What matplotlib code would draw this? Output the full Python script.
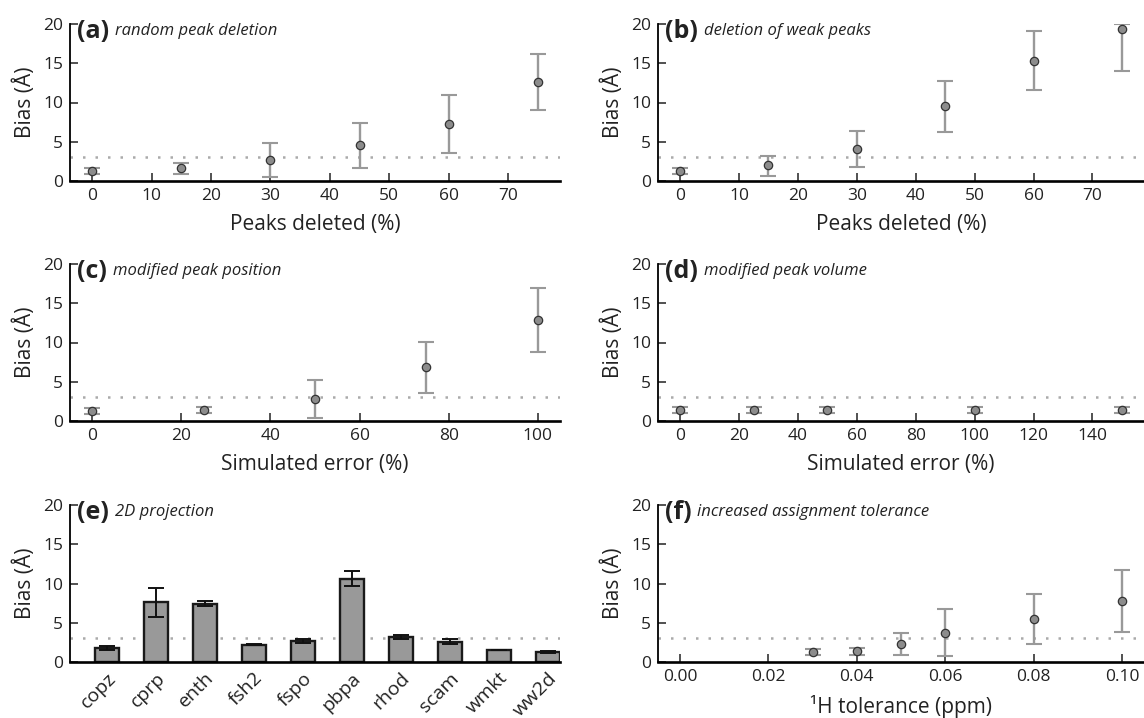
import numpy as np
import matplotlib.pyplot as plt

plt.rcParams['font.family'] = ['Open Sans', 'DejaVu Sans']

# (a) random peak deletion
a_x = [0, 15, 30, 45, 60, 75]
a_y = [1.3, 1.6, 2.7, 4.6, 7.3, 12.6]
a_lo = [0.4, 0.7, 2.15, 2.9, 3.7, 3.6]
a_hi = [0.4, 0.7, 2.1, 2.8, 3.7, 3.6]

# (b) deletion of weak peaks
b_x = [0, 15, 30, 45, 60, 75]
b_y = [1.3, 2.0, 4.1, 9.55, 15.35, 19.3]
b_lo = [0.4, 1.3, 2.3, 3.25, 3.8, 5.3]
b_hi = [0.4, 1.2, 2.3, 3.25, 3.8, 0.7]

# (c) modified peak position
c_x = [0, 25, 50, 75, 100]
c_y = [1.3, 1.35, 2.8, 6.85, 12.9]
c_lo = [0.38, 0.38, 2.4, 3.25, 4.1]
c_hi = [0.4, 0.4, 2.4, 3.25, 4.1]

# (d) modified peak volume
d_x = [0, 25, 50, 100, 150]
d_y = [1.34, 1.34, 1.34, 1.34, 1.34]
d_lo = [0.38, 0.38, 0.38, 0.38, 0.38]
d_hi = [0.38, 0.38, 0.38, 0.38, 0.38]

# (e) 2D projection
e_names = ['copz', 'cprp', 'enth', 'fsh2', 'fspo', 'pbpa', 'rhod', 'scam', 'wmkt', 'ww2d']
e_y = [1.8, 7.6, 7.45, 2.2, 2.7, 10.6, 3.2, 2.6, 1.5, 1.25]
e_err = [0.3, 1.85, 0.3, 0.05, 0.25, 0.95, 0.25, 0.35, 0.03, 0.15]

# (f) increased assignment tolerance
f_x = [0.03, 0.04, 0.05, 0.06, 0.08, 0.10]
f_y = [1.3, 1.35, 2.27, 3.75, 5.47, 7.75]
f_lo = [0.42, 0.47, 1.4, 2.95, 3.2, 3.9]
f_hi = [0.38, 0.45, 1.4, 2.95, 3.15, 3.95]

threshold = 3.0

fig = plt.figure(figsize=(11.44, 7.18), dpi=100)

W, H = 1144.0, 718.0
rows = [181, 421, 662]          # bottom pixel of each row
cols = [(70, 490), (658, 486)]  # left pixel, width
ah = 157
ink = '#222222'

def make_ax(r, c):
    left, w = cols[c]
    return fig.add_axes([left / W, 1 - rows[r] / H, w / W, ah / H])

def style(ax, tag, title, xlabel):
    ax.set_ylim(0, 20)
    ax.set_yticks([0, 5, 10, 15, 20])
    for s in ['top', 'right']:
        ax.spines[s].set_visible(False)
    ax.spines['bottom'].set_linewidth(1.9)
    ax.spines['left'].set_linewidth(1.3)
    ax.tick_params(direction='in', length=6, width=1.1, labelsize=12.5,
                   colors=ink, pad=5)
    ax.axhline(threshold, color='#aaaaaa', ls=(0, (1, 4)), lw=1.8, zorder=0)
    ax.set_ylabel('Bias (Å)', fontsize=15, color=ink, labelpad=5)
    if xlabel:
        ax.set_xlabel(xlabel, fontsize=15, color=ink, labelpad=7)
    t = ax.text(0.015, 0.955, tag, transform=ax.transAxes, fontsize=18,
                fontweight='bold', va='center', ha='left', color=ink)
    ax.annotate(title, xy=(1, 0.5), xycoords=t, xytext=(4, 0),
                textcoords='offset points', fontsize=12, style='italic',
                va='center', ha='left', color=ink)

def points(ax, x, y, lo, hi):
    ax.errorbar(x, y, yerr=[lo, hi], fmt='none', ecolor='#999999',
                elinewidth=1.7, capsize=6, capthick=1.5, zorder=2)
    ax.plot(x, y, 'o', ms=6, mfc='#8c8c8c', mec='#333333', mew=0.9,
            zorder=3, clip_on=False)

ax = make_ax(0, 0)
points(ax, a_x, a_y, a_lo, a_hi)
ax.set_xlim(-3.75, 78.75)
ax.set_xticks(np.arange(0, 71, 10))
style(ax, '(a)', 'random peak deletion', 'Peaks deleted (%)')

ax = make_ax(0, 1)
points(ax, b_x, b_y, b_lo, b_hi)
ax.set_xlim(-3.75, 78.75)
ax.set_xticks(np.arange(0, 71, 10))
style(ax, '(b)', 'deletion of weak peaks', 'Peaks deleted (%)')

ax = make_ax(1, 0)
points(ax, c_x, c_y, c_lo, c_hi)
ax.set_xlim(-5, 105)
ax.set_xticks(np.arange(0, 101, 20))
style(ax, '(c)', 'modified peak position', 'Simulated error (%)')

ax = make_ax(1, 1)
points(ax, d_x, d_y, d_lo, d_hi)
ax.set_xlim(-7.5, 157.5)
ax.set_xticks(np.arange(0, 141, 20))
style(ax, '(d)', 'modified peak volume', 'Simulated error (%)')

ax = make_ax(2, 0)
pos = np.arange(len(e_names))
ax.bar(pos, e_y, width=0.5, color='#999999', edgecolor='#1a1a1a', lw=1.7,
       yerr=e_err, capsize=5.5, error_kw=dict(ecolor='#111111', elinewidth=1.4,
                                              capthick=1.4), zorder=2)
ax.set_xlim(-0.75, 9.25)
ax.set_xticks(pos)
ax.set_xticklabels(e_names, rotation=45, ha='right', rotation_mode='anchor')
style(ax, '(e)', '2D projection', None)
ax.tick_params(axis='x', labelsize=14, pad=5)

ax = make_ax(2, 1)
points(ax, f_x, f_y, f_lo, f_hi)
ax.set_xlim(-0.005, 0.105)
ax.set_xticks(np.arange(0, 0.101, 0.02))
ax.set_xticklabels(['%.2f' % v for v in np.arange(0, 0.101, 0.02)])
style(ax, '(f)', 'increased assignment tolerance', '¹H tolerance (ppm)')

fig.savefig('out.png', dpi=100)
